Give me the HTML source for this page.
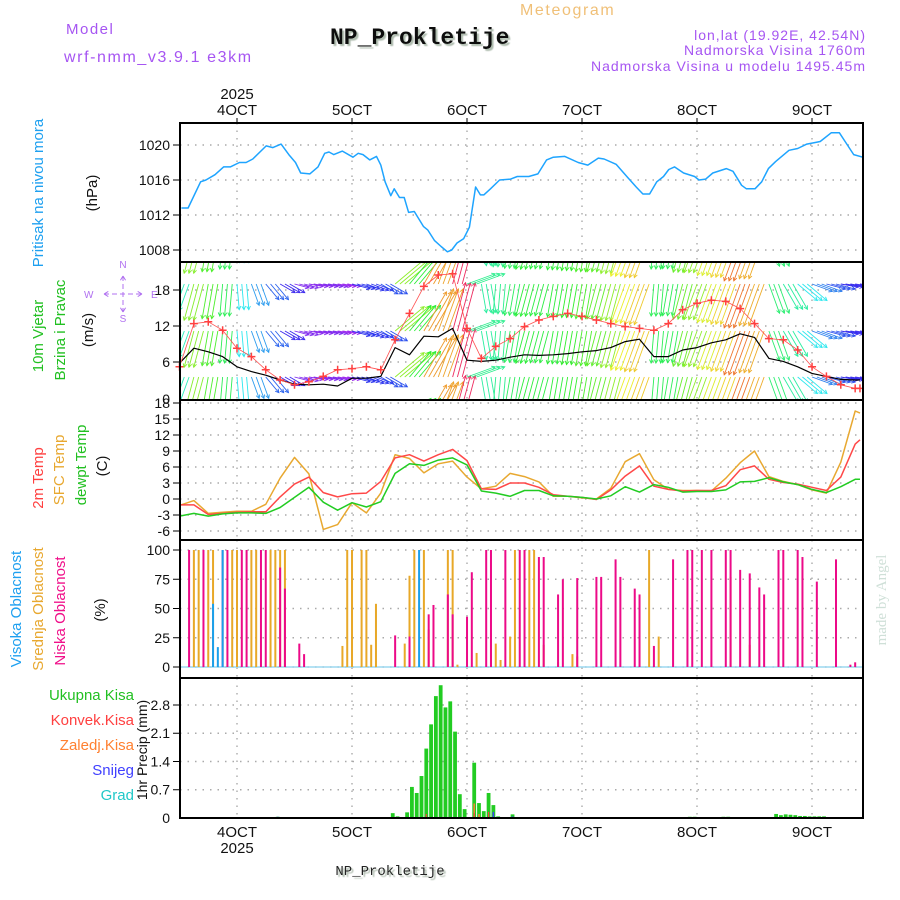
<!DOCTYPE html>
<html><head><meta charset="utf-8">
<style>
html,body{margin:0;padding:0;background:#fff;}
svg{display:block;font-family:"Liberation Sans",sans-serif;}
</style></head>
<body>
<svg id="chart" width="900" height="900" viewBox="0 0 900 900" xmlns="http://www.w3.org/2000/svg">
<defs>
<clipPath id="cp2"><rect x="180" y="262" width="683" height="138"/></clipPath>
<filter id="shadow"><feDropShadow dx="2" dy="2" stdDeviation="0.6" flood-color="#9a9" flood-opacity="0.8"/></filter>
</defs>
<!-- Header -->
<text x="66" y="34" font-size="15" fill="#a655f2" letter-spacing="1.5">Model</text>
<text x="64" y="62" font-size="16" fill="#a655f2" letter-spacing="1.6">wrf-nmm_v3.9.1 e3km</text>
<text x="330" y="44" font-size="23" font-weight="bold" font-family="Liberation Mono, monospace" fill="#111" filter="url(#shadow)">NP_Prokletije</text>
<text x="520" y="15" font-size="16" fill="#f0c078" letter-spacing="1.6">Meteogram</text>
<text x="866" y="40" font-size="14" fill="#a655f2" text-anchor="end" letter-spacing="1">lon,lat (19.92E, 42.54N)</text>
<text x="866" y="55" font-size="14" fill="#a655f2" text-anchor="end" letter-spacing="1">Nadmorska Visina 1760m</text>
<text x="866" y="71" font-size="14" fill="#a655f2" text-anchor="end" letter-spacing="1">Nadmorska Visina u modelu 1495.45m</text>
<text x="237" y="99" font-size="15" fill="#111" text-anchor="middle">2025</text>
<text x="237" y="853" font-size="15" fill="#111" text-anchor="middle">2025</text>
<text x="390" y="875" font-size="14" font-family="Liberation Mono, monospace" fill="#222" text-anchor="middle" filter="url(#shadow)">NP_Prokletije</text>
<text transform="translate(886,600) rotate(-90)" font-size="15" fill="#cfe0d8" text-anchor="middle" font-family="Liberation Serif, serif">made by Angel</text>
<!-- Axis titles -->
<text transform="translate(43,193) rotate(-90)" font-size="15" fill="#1ea0f0" text-anchor="middle">Pritisak na nivou mora</text>
<text transform="translate(97,193) rotate(-90)" font-size="15" fill="#111" text-anchor="middle">(hPa)</text>
<text transform="translate(43,336) rotate(-90)" font-size="15" fill="#22c022" text-anchor="middle">10m Vjetar</text>
<text transform="translate(65,330) rotate(-90)" font-size="15" fill="#22c022" text-anchor="middle">Brzina i Pravac</text>
<text transform="translate(93,330) rotate(-90)" font-size="15" fill="#111" text-anchor="middle">(m/s)</text>
<g font-size="10" fill="#b070f0">
<text x="84" y="298">W</text><text x="151" y="298">E</text>
<text x="123" y="268" text-anchor="middle">N</text><text x="123" y="322" text-anchor="middle">S</text>
<path d="M104,294h38M123,276v36M104,294l5,-3M104,294l5,3M142,294l-5,-3M142,294l-5,3M123,276l-3,5M123,276l3,5M123,312l-3,-5M123,312l3,-5" stroke="#b070f0" stroke-width="1" fill="none" stroke-dasharray="5,3"/>
</g>
<text transform="translate(43,478) rotate(-90)" font-size="15" fill="#ff4040" text-anchor="middle">2m Temp</text>
<text transform="translate(64,470) rotate(-90)" font-size="15" fill="#e8a830" text-anchor="middle">SFC Temp</text>
<text transform="translate(86,465) rotate(-90)" font-size="15" fill="#22c022" text-anchor="middle">dewpt Temp</text>
<text transform="translate(107,466) rotate(-90)" font-size="15" fill="#111" text-anchor="middle">(C)</text>
<text transform="translate(21,609) rotate(-90)" font-size="15" fill="#1ea0f0" text-anchor="middle">Visoka Oblacnost</text>
<text transform="translate(43,609) rotate(-90)" font-size="15" fill="#e8a830" text-anchor="middle">Srednja Oblacnost</text>
<text transform="translate(65,611) rotate(-90)" font-size="15" fill="#f0108a" text-anchor="middle">Niska Oblacnost</text>
<text transform="translate(105,610) rotate(-90)" font-size="15" fill="#111" text-anchor="middle">(%)</text>
<g font-size="15" text-anchor="end">
<text x="134" y="700" fill="#22c022">Ukupna Kisa</text>
<text x="134" y="725" fill="#ff4040">Konvek.Kisa</text>
<text x="134" y="750" fill="#ff8030">Zaledj.Kisa</text>
<text x="134" y="775" fill="#4040ff">Snijeg</text>
<text x="134" y="800" fill="#20c8c8">Grad</text>
</g>
<text transform="translate(147,750) rotate(-90)" font-size="14" fill="#111" text-anchor="middle">1hr Precip (mm)</text>
<g id="plots"></g>
</svg>
<script>
// ---------- DATA ----------
const dayLabels = ["4OCT","5OCT","6OCT","7OCT","8OCT","9OCT"];
const pressHours = [0.4,1.8,4.4,5.5,7.4,9.2,10.6,12.5,13.9,15.3,18.1,19.5,21.2,22.8,24.2,25.3,27.2,28.9,30.3,31.2,32.2,34.0,36.2,37.3,38.3,39.7,41.1,42.0,42.9,44.1,44.8,45.9,46.9,47.8,49.0,50.9,51.8,53.2,54.6,55.9,56.8,57.9,59.3,60.5,61.8,62.8,63.5,64.9,66.8,69.1,70.5,72.9,74.8,76.6,78.0,80.4,83.2,85.2,87.4,88.6,91.1,93.5,95.3,96.7,98.1,99.6,101.0,102.1,103.3,105.2,107.5,108.4,109.8,111.3,114.1,115.5,117.3,118.3,120.1,121.5,122.9,124.4,127.2,129.0,130.9,132.8,133.7,136.0,137.7,138.9,140.7,142.6];
const pressure = [1012.8,1012.8,1015.8,1016.0,1016.6,1017.5,1017.5,1018.0,1018.0,1018.4,1019.9,1019.7,1020.1,1018.9,1018.0,1016.8,1016.7,1017.5,1019.05,1019.2,1018.9,1019.3,1018.6,1019.05,1018.9,1018.3,1018.7,1017.7,1015.8,1014.2,1015.0,1014.0,1014.0,1012.3,1012.4,1010.7,1010.3,1009.1,1008.4,1007.8,1008.0,1008.8,1009.3,1010.6,1015.2,1014.3,1014.3,1015.0,1016.0,1016.1,1016.4,1016.4,1016.7,1018.3,1018.6,1018.7,1018.0,1017.7,1018.5,1018.4,1017.8,1016.3,1015.2,1014.4,1014.4,1015.8,1016.4,1017.2,1017.5,1016.8,1016.4,1016.0,1016.1,1016.8,1017.3,1017.0,1015.4,1015.0,1015.0,1015.8,1017.3,1018.1,1019.4,1019.6,1020.1,1020.3,1020.4,1021.4,1021.4,1020.4,1018.9,1018.6];
const pressTicks = [1008,1012,1016,1020];

const hours3 = [0,3,6,9,12,15,18,21,24,27,30,33,36,39,42,45,48,51,54,57,60,63,66,69,72,75,78,81,84,87,90,93,96,99,102,105,108,111,114,117,120,123,126,129,132,135,138,141,142];
const windSpeed = [5.8,8.3,7.7,6.9,5.2,4.4,3.8,3.0,2.3,2.2,2.3,2.0,3.3,3.3,3.6,8.4,7.2,10.3,10.2,11.6,6.3,6.1,6.3,6.8,7.2,7.1,7.2,7.4,7.7,7.9,8.4,9.4,9.8,6.9,6.9,8.0,8.4,9.2,9.7,10.7,10.1,6.6,6.1,5.2,4.1,3.6,3.1,3.0,3.0];
const windGust = [5.2,12.4,12.7,11.3,8.3,6.9,4.7,3.0,2.2,2.7,3.6,4.7,4.9,5.2,4.7,9.7,14.1,18.6,20.5,20.7,11.6,6.6,8.6,9.9,11.9,13.0,13.6,14.1,13.6,13.0,12.4,11.9,11.6,11.3,12.4,14.7,15.8,16.3,16.1,14.9,12.4,9.9,9.7,8.0,5.2,3.6,2.2,1.6,1.6];
const windDir = [20,15,10,5,355,340,320,300,285,280,280,280,285,290,300,230,220,210,200,195,250,350,5,10,15,15,10,10,10,15,15,20,20,5,10,15,20,20,20,20,20,340,330,310,290,285,280,280,280];
const windTicks = [6,12,18];

const temp2m = [-1.1,-1.1,-2.9,-2.7,-2.5,-2.4,-2.4,0.4,2.8,4.1,1.2,0.4,1.0,1.1,3.3,7.7,8.3,7.1,8.3,9.3,7.2,1.9,1.8,3.0,3.0,2.2,0.8,0.5,0.3,-0.1,1.7,4.3,6.2,2.4,1.8,1.5,1.6,1.6,2.5,5.5,6.2,3.7,3.1,2.8,2.2,1.6,4.1,10.3,11.1];
const tempSfc = [-1.2,-0.3,-2.7,-2.5,-2.3,-2.3,-1.0,3.9,7.8,4.7,-5.7,-4.8,-0.7,-2.6,1.1,8.3,7.6,4.9,6.6,7.1,4.1,1.9,2.4,4.8,4.2,3.2,0.5,0.5,0.2,0.0,2.0,7.0,8.5,3.6,1.8,1.6,1.6,1.5,3.9,6.8,9.0,4.2,3.3,2.7,1.7,1.1,6.9,16.5,16.1];
const tempDew = [-3.2,-2.7,-3.2,-2.8,-2.6,-2.6,-2.7,-1.6,0.3,2.2,-0.6,-2.1,-0.7,-1.5,-0.5,4.8,6.6,6.3,7.3,7.7,6.4,1.5,1.1,0.5,1.6,1.6,0.6,0.5,0.3,0.0,0.6,2.3,1.3,2.7,2.2,1.3,1.4,1.4,1.7,3.2,3.3,4.0,3.2,2.7,1.8,1.2,2.3,3.7,3.7];
const tempTicks = [-6,-3,0,3,6,9,12,15,18];

const cloudLowHours = [2,5,9,10,13,14,17,18,21,22,25,26,45,48,52,53,56,57,60,61,64,65,68,71,72,75,76,79,80,83,87,88,91,92,95,96,99,103,106,107,109,111,114,115,117,119,121,122,125,126,129,130,133,137,140,141];
const cloudLow = [100,100,100,100,100,100,100,100,85,67,20,11,27,26,45,53,62,45,43,81,100,100,100,100,100,94,94,62,75,76,77,77,92,77,67,62,18,92,100,100,100,100,100,100,83,80,68,62,100,100,100,94,73,92,2,4];
const cloudMidHours = [3,4,6,7,11,12,15,16,19,20,21,22,34,35,36,38,39,40,41,47,48,49,51,52,56,57,58,62,65,66,67,69,70,73,74,76,79,82,83,98,100,115,119];
const cloudMid = [100,100,100,100,100,100,100,100,100,100,100,100,18,100,100,100,100,19,54,20,78,100,100,32,100,100,2,12,29,20,6,26,100,100,100,19,4,11,9,100,26,77,19];
const cloudHighHours = [7,8,9,50];
const cloudHigh = [54,17,100,100];
const cloudTicks = [0,25,50,75,100];

const precipHours = [21,45,46,48,49,50,51,52,53,54,55,56,57,58,59,60,62,63,64,65,66,67,70,107,108,114,115,125,126,127,128,129,130,131,132,133,134,135];
const precipTotal = [0.03,0.12,0.04,0.14,0.77,0.62,1.04,1.72,2.32,3.02,3.29,2.74,2.89,2.14,0.59,0.22,1.37,0.37,0.17,0.62,0.32,0.04,0.09,0.03,0.03,0.03,0.03,0.1,0.07,0.09,0.08,0.07,0.05,0.05,0.04,0.04,0.04,0.04];
const convHours = [52,62,65];
const precipConv = [0.1,0.12,0.15];
const frzHours = [62,63];
const precipFrz = [0.36,0.1];
const snowHours = [21,66,70];
const precipSnow = [0.03,0.15,0.04];
const precipTicks = [0.7,1.4,2.1,2.8];

// ---------- SCALES ----------
const NS = "http://www.w3.org/2000/svg";
const X0 = 180, X1 = 863;
function xh(h){ return 179.5 + 4.792*h; }
function xDay(d){ return 237 + 115*d; }
const P = {
  press:{top:123,bot:262,y:v=>145+(1020-v)*8.75},
  wind:{top:262,bot:400,y:v=>398-v*6},
  temp:{top:400,bot:540,y:v=>499-v*16/3},
  cloud:{top:540,bot:678,y:v=>667-v*1.17},
  precip:{top:678,bot:818,y:v=>818-v*40.36}
};
const root = document.getElementById('plots');
function el(tag, attrs, parent){
  const e = document.createElementNS(NS, tag);
  for (const k in attrs) e.setAttribute(k, attrs[k]);
  (parent||root).appendChild(e);
  return e;
}
function poly(hs, vs, yf, color, w, parent){
  let d = "";
  for (let i=0;i<hs.length;i++) d += (i?"L":"M")+xh(hs[i]).toFixed(1)+","+yf(vs[i]).toFixed(1);
  return el('path',{d:d,fill:'none',stroke:color,'stroke-width':w,'stroke-linejoin':'round'},parent);
}
function grid(p, ticks, labels, name){
  const g = el('g',{});
  
  
  for (let d=0; d<6; d++){
    el('line',{x1:xDay(d),x2:xDay(d),y1:p.top,y2:p.bot,stroke:'#aaa','stroke-width':1.4,'stroke-dasharray':'1.5,6'},g);
  }
  ticks.forEach((t,i)=>{
    const y = p.y(t);
    el('line',{x1:X0,x2:X1,y1:y,y2:y,stroke:'#aaa','stroke-width':1.4,'stroke-dasharray':'1.5,6'},g);
    el('line',{x1:X0-7,x2:X0,y1:y,y2:y,stroke:'#000','stroke-width':1},g);
    const t2 = el('text',{x:X0-10,y:y+5,'font-size':14,'text-anchor':'end',fill:'#111'},g);
    t2.textContent = labels ? labels[i] : String(t);
  });
  return g;
}

grid(P.press, pressTicks, null, 'pressure');
grid(P.wind, windTicks, null, 'wind');
grid(P.temp, tempTicks, null, 'temperature');
grid(P.cloud, cloudTicks, null, 'cloud');
grid(P.precip, precipTicks, ["0.7","1.4","2.1","2.8"], 'precip');
{ const t0 = el('text',{x:X0-10,y:823,'font-size':14,'text-anchor':'end',fill:'#111'}); t0.textContent="0";
   
  const tw = el('text',{x:X0-10,y:404,'font-size':14,'text-anchor':'end',fill:'#111'}); tw.textContent="0";
    }

dayLabels.forEach((lab,d)=>{
  const a = el('text',{x:xDay(d),y:115,'font-size':15,'text-anchor':'middle',fill:'#111'});
  a.textContent = lab;
  
  
  const b = el('text',{x:xDay(d),y:837,'font-size':15,'text-anchor':'middle',fill:'#111'});
  b.textContent = lab;
  
  
  el('line',{x1:xDay(d),x2:xDay(d),y1:118,y2:123,stroke:'#000'});
});

// Pressure
const pl = poly(pressHours, pressure, P.press.y, '#1ea4ff', 1.5);



// Wind arrows
const wg = el('g',{'clip-path':'url(#cp2)'});


function spdColor(s){
  let hue = 275 - (s-2)*29;
  if (hue < 0) hue = 345 + Math.max(-20, hue*0.3);
  return 'hsl('+hue+',85%,55%)';
}
const rows = [237,284,331,377,424];
for (let i=0;i<hours3.length;i++){
  const s = windSpeed[i], dir = (windDir[i]+180)*Math.PI/180;
  const L = 6 + s*3.8;
  const col = spdColor(s);
  for (let sub=0; sub<3; sub++){
    const h = hours3[i]+sub;
    if (h>142) break;
    const x = xh(h);
    rows.forEach(y0=>{
      const x2 = x + L*Math.sin(dir), y2 = y0 - L*Math.cos(dir);
      const a = el('line',{x1:x,y1:y0,x2:x2,y2:y2,stroke:col,'stroke-width':0.9},wg);
      
      const hx1 = x2 - 4*Math.sin(dir-0.5), hy1 = y2 + 4*Math.cos(dir-0.5);
      const hx2 = x2 - 4*Math.sin(dir+0.5), hy2 = y2 + 4*Math.cos(dir+0.5);
      el('path',{d:'M'+hx1+','+hy1+'L'+x2+','+y2+'L'+hx2+','+hy2,fill:'none',stroke:col,'stroke-width':0.9},wg);
    });
  }
}
const ws = poly(hours3, windSpeed, P.wind.y, '#000', 1.2);


const gg = el('g',{});


poly(hours3, windGust, P.wind.y, '#ff5050', 0.8, gg);
hours3.forEach((h,i)=>{
  const x = xh(h), y = P.wind.y(windGust[i]);
  el('path',{d:'M'+(x-4)+','+y+'h8M'+x+','+(y-4)+'v8',stroke:'#ff4040','stroke-width':1.5},gg);
});

// Temperatures
[[tempSfc,'#e8a830','temp-sfc-line'],[temp2m,'#ff4848','temp-2m-line'],[tempDew,'#22cc22','temp-dewpt-line']].forEach(s=>{
  const l = poly(hours3, s[0], P.temp.y, s[1], 1.5);
  
  
});

// Clouds
el('line',{x1:X0,x2:X1,y1:667,y2:667,stroke:'#9cd8f0','stroke-width':1.5});
function cloudBars(hs, vs, col, name){
  const g = el('g',{});
  
  
  hs.forEach((h,i)=>{
    const x = xh(h), y = P.cloud.y(vs[i]);
    el('rect',{x:x-1,y:y,width:2,height:667-y,fill:col},g);
  });
}
cloudBars(cloudMidHours, cloudMid, '#e8a828', 'cloud-mid-bars');
cloudBars(cloudLowHours, cloudLow, '#ec0a88', 'cloud-low-bars');
cloudBars(cloudHighHours, cloudHigh, '#1aa0ec', 'cloud-high-bars');

// Precip
function precipBars(hs, vs, col, name, w){
  const g = el('g',{});
  
  
  hs.forEach((h,i)=>{
    const x = xh(h-0.5), y = P.precip.y(vs[i]);
    el('rect',{x:x-w/2,y:y,width:w,height:818-y,fill:col},g);
  });
}
precipBars(precipHours, precipTotal, '#22cc22', 'precip-total-bars', 3.8);
precipBars(frzHours, precipFrz, '#ff8030', 'precip-freezing-bars', 1.5);
precipBars(convHours, precipConv, '#ff4040', 'precip-convective-bars', 1.2);
precipBars(snowHours, precipSnow, '#4040ff', 'precip-snow-bars', 1.5);
el('line',{x1:X0,x2:X1,y1:818,y2:818,stroke:'#000','stroke-width':2,'stroke-dasharray':'6,3'});

// Panel frames
Object.keys(P).forEach(k=>{
  const p = P[k];
  const r = el('rect',{x:X0,y:p.top,width:X1-X0,height:p.bot-p.top,fill:'none',stroke:'#000','stroke-width':2});
  
  
});
</script>
</body></html>
